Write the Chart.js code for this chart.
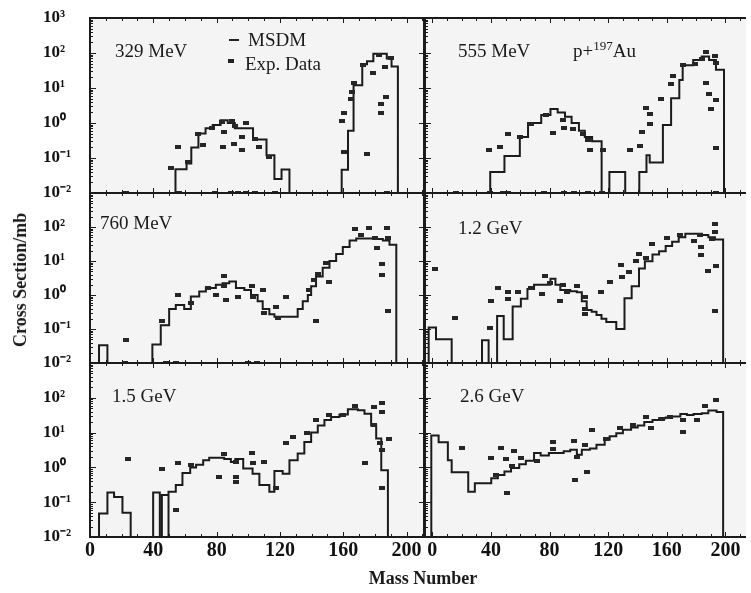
<!DOCTYPE html>
<html><head><meta charset="utf-8">
<script src="https://cdn.jsdelivr.net/npm/chart.js@4.4.1/dist/chart.umd.min.js"></script>
<style>
html,body{margin:0;padding:0;background:#fff;}
#wrap{position:relative;width:751px;height:593px;overflow:hidden;background:#fff;}
#wrap canvas{position:absolute;left:0;top:0;}
.t{position:absolute;font-family:'Liberation Serif','Times New Roman',serif;color:#1a1a1a;line-height:1;white-space:nowrap;z-index:5;}
.b{font-weight:bold;}
.sym{position:absolute;background:#222;z-index:5;}
</style></head><body>
<div id="wrap">
<canvas id="c0" width="751" height="593"></canvas>
<canvas id="c1" width="751" height="593"></canvas>
<canvas id="c2" width="751" height="593"></canvas>
<canvas id="c3" width="751" height="593"></canvas>
<canvas id="c4" width="751" height="593"></canvas>
<canvas id="c5" width="751" height="593"></canvas>
<div class="t" style="left:115px;top:40.5px;font-size:19px">329 MeV</div>
<div class="t" style="left:458px;top:40.5px;font-size:19px">555 MeV</div>
<div class="t" style="left:573px;top:40.5px;font-size:19px">p+<span style="font-size:13px;position:relative;top:-7px">197</span>Au</div>
<div class="t" style="left:100px;top:212.5px;font-size:19px">760 MeV</div>
<div class="t" style="left:458px;top:217.5px;font-size:19px">1.2 GeV</div>
<div class="t" style="left:112px;top:385.5px;font-size:19px">1.5 GeV</div>
<div class="t" style="left:460px;top:385.5px;font-size:19px">2.6 GeV</div>
<div class="sym" style="left:229px;top:39px;width:10px;height:2px"></div>
<div class="t" style="left:248px;top:29.5px;font-size:19px">MSDM</div>
<div class="sym" style="left:228px;top:59px;width:6px;height:4px"></div>
<div class="t" style="left:245px;top:54px;font-size:19px">Exp. Data</div>
<div class="t b" style="left:423px;top:578px;font-size:18px;transform:translate(-50%,-50%)">Mass Number</div>
<div class="t b" style="left:20px;top:280px;font-size:18px;transform:translate(-50%,-50%) rotate(-90deg)">Cross Section/mb</div>
</div>
<script>
// ---------- data ----------
const X_TICKS = [0, 40, 80, 120, 160, 200];
const Y_TICKS_TOP = [0.01, 0.1, 1, 10, 100, 1000];
const Y_TICKS = [0.01, 0.1, 1, 10, 100];
const YMIN = 0.01, YMAX = 1000;

// 329 MeV
const edges329 = [54, 61, 64, 68.5, 73, 77.5, 82.5, 87, 91.5, 103, 111.5, 116.5, 121, 126, 159, 163, 166.5, 172, 175, 179, 187.5, 190.5, 194.5];
const hist329 = [0.048, 0.07, 0.2, 0.5, 0.71, 0.87, 1.2, 1.0, 0.71, 0.34, 0.12, 0.025, 0.047, 0.01, 0.046, 0.6, 12, 48, 58, 95, 70, 41];
const expA329 = [51.3, 55.5, 61.8, 68.5, 71.5, 77, 83.3, 84, 84.5, 89.9, 90.7, 91.3, 96, 96, 98.7, 104, 106.6, 113.3, 158.9, 160.6, 160.6, 164.6, 165.2, 166.9, 172.6, 174.7, 179, 182.5, 183.8, 183.8, 186.7, 186.5, 190.2];
const exp329 = [0.053, 0.2, 0.075, 0.5, 0.23, 0.73, 1.1, 0.21, 0.55, 1.15, 0.25, 0.8, 0.39, 0.17, 0.98, 0.34, 0.21, 0.11, 1.17, 1.9, 0.145, 4.9, 7.6, 13.5, 45, 0.126, 27, 87, 3.5, 1.9, 5.6, 41, 71];
const floor329 = [22.8, 56.5, 78.7, 89.2, 93.4, 98.7, 104, 116.7, 187.4];

// 555 MeV
const edges555 = [39.5, 49.2, 59.7, 65.3, 74.3, 80.6, 85.5, 90.5, 95, 100, 104, 109, 115.5, 120.8, 131.6, 141.2, 146.1, 148.3, 157.3, 162.9, 168.5, 170.8, 178, 183.8, 188.8, 193.5, 199];
const hist555 = [0.04, 0.115, 0.4, 1.0, 1.7, 2.5, 2.0, 1.5, 1.0, 0.6, 0.4, 0.3, 0.01, 0.04, 0.01, 0.04, 0.12, 0.074, 0.88, 5.1, 17, 45, 63, 80, 63, 33];
const expA555 = [38.8, 46.2, 51.4, 59.7, 67.6, 77.7, 82.2, 88.9, 89.6, 96.3, 103, 106.2, 107.9, 116.5, 134.9, 141.7, 143.2, 146.1, 148.3, 148.3, 156.2, 162.5, 164.5, 170.8, 179.5, 183.7, 186.5, 186.5, 188.8, 189.9, 193.1, 193.5, 193.5, 193.5];
const exp555 = [0.17, 0.21, 0.47, 0.4, 0.93, 1.7, 0.52, 1.2, 0.7, 0.67, 0.48, 0.32, 0.17, 0.17, 0.17, 0.22, 0.56, 2.6, 1.8, 0.93, 4.8, 13, 22, 45, 47, 66, 110, 14, 6.7, 2.5, 80, 52, 4.4, 0.19];
const floor555 = [15.9, 39.5, 48.5, 51.4, 76.5, 90, 96.7, 106.2, 115.8, 193.3];

// 760 MeV
const edges760 = [5.7, 11, 39.4, 44.7, 50, 54.2, 59.5, 63.7, 69, 73.2, 79.5, 83.7, 88, 92.2, 97.5, 101.7, 105.9, 109.1, 113.3, 116.5, 131.2, 134.4, 137.6, 139.7, 142.8, 147, 151.3, 155.5, 159.7, 164, 168.2, 180.8, 185, 189.2, 193.5];
const hist760 = [0.033, 0.01, 0.035, 0.13, 0.39, 0.51, 0.39, 0.9, 1.26, 1.6, 2.0, 2.2, 2.5, 1.6, 1.4, 1.0, 0.65, 0.39, 0.27, 0.23, 0.39, 0.65, 1.0, 1.8, 3.5, 6.3, 10, 16, 26, 40, 46, 44, 40, 30];
const expA760 = [22.6, 45.4, 55.9, 63.7, 74.8, 79.5, 84.8, 84.8, 85.9, 93.3, 102.3, 103, 109.1, 110.1, 117.5, 118.6, 123.8, 138.6, 141.8, 142.8, 143.9, 149.2, 150.8, 167.1, 170.9, 176.2, 179.8, 181.2, 184.6, 184.6, 187.6, 188.2, 188.2];
const exp760 = [0.047, 0.17, 1.0, 0.57, 1.6, 1.0, 3.7, 1.8, 0.72, 0.9, 1.9, 0.9, 1.45, 0.29, 0.43, 0.21, 0.9, 1.4, 2.8, 0.17, 4.2, 8.7, 2.4, 85, 60, 91, 46, 24.5, 8.1, 3.8, 96, 46, 0.34];
const floor760 = [22, 48.1, 54.4, 99.8, 105.7];

// 1.2 GeV
const edges1200 = [-2.5, 2.5, 13.2, 33.9, 38.4, 44.2, 48.7, 54.8, 60.4, 64.9, 69.4, 80.6, 84, 87.3, 94.1, 98.6, 102, 105.3, 108.7, 112, 115.4, 118.7, 125.5, 131.1, 136, 141, 145, 150.2, 154.7, 159.2, 163.6, 168.1, 172.6, 183.8, 188.3, 192.8, 198.4];
const hist1200 = [0.11, 0.05, 0.01, 0.047, 0.01, 0.24, 0.05, 0.46, 0.78, 1.5, 2.0, 3.0, 2.0, 1.4, 1.3, 1.2, 0.65, 0.36, 0.32, 0.26, 0.2, 0.16, 0.1, 0.8, 1.8, 6.0, 9.8, 15.5, 19.5, 27.5, 37, 50, 63, 58, 50, 43];
const expA1200 = [1.6, 15.5, 39.1, 39.7, 45.1, 51.9, 51.9, 58.6, 67.6, 75, 77.2, 80.6, 87.3, 89.1, 91.8, 98.6, 104.2, 104.2, 104.2, 115.4, 121.5, 128.9, 129.5, 134.4, 139, 140.8, 146, 150.2, 160.3, 169.3, 178.3, 182.8, 183.4, 183.4, 187.9, 190.6, 192.8, 192.8, 193.3, 192.8];
const exp1200 = [6, 0.21, 0.107, 0.68, 1.6, 1.26, 0.78, 1.26, 1.66, 1.1, 3.7, 2.2, 0.68, 2.0, 1.2, 1.8, 0.85, 0.39, 0.27, 1.26, 2.4, 7.4, 3.3, 4.8, 9.8, 16.6, 12.6, 31, 48, 58, 40, 60, 26, 15.5, 5.2, 43, 120, 73, 7.2, 0.34];
const floor1200 = [];

// 1.5 GeV
const edges1500 = [5.7, 11, 15.2, 20.5, 25.7, 39.9, 44.1, 45.4, 49.6, 49.6, 54.2, 58.4, 63.3, 67, 71.5, 75.3, 84.8, 89, 91.8, 96.8, 102.7, 107, 113.3, 116.5, 121.7, 126, 131.2, 135.4, 139.7, 143.9, 148.1, 152.3, 157.6, 162.9, 169.2, 173.4, 177.6, 180.8, 184, 188.2];
const hist1500 = [0.047, 0.19, 0.14, 0.05, 0.01, 0.19, 0.01, 0.16, 0.01, 0.2, 0.31, 0.69, 1.0, 1.2, 1.6, 1.9, 1.75, 1.44, 1.75, 0.93, 0.66, 0.31, 0.2, 0.79, 0.66, 1.6, 2.5, 5.4, 10, 16, 23, 28, 33, 47, 44, 35, 16, 6.8, 0.83];
const expA1500 = [24.3, 45.8, 54.6, 55.9, 63.7, 81.6, 84.8, 92.2, 92.2, 92.2, 102.3, 103.2, 110.1, 117.5, 123.8, 128.5, 137, 142.8, 151.3, 159.7, 167.1, 174, 179.1, 179.1, 182.9, 184.7, 184.7, 184.7, 188.8, 184.7];
const exp1500 = [1.8, 0.89, 0.059, 1.38, 1.2, 0.54, 2.5, 0.54, 0.37, 1.44, 2.6, 1.38, 1.44, 0.25, 4.9, 7.6, 10, 23, 33, 32, 59, 1.38, 55, 16, 4.9, 69, 40, 3.1, 6.5, 0.25];
const floor1500 = [];

// 2.6 GeV
const edges2600 = [-0.7, 4.3, 10.6, 13.2, 24.5, 29, 40.2, 44.7, 49.2, 53.7, 59.3, 63.8, 69.4, 73.9, 79.5, 89.6, 94.1, 98.6, 102, 107.5, 112, 117.6, 121, 125.5, 130, 135.6, 140.1, 144.6, 150.2, 154.7, 159.2, 163.6, 169.2, 173.7, 178.2, 183.8, 188.3, 193.9, 198.4];
const hist2600 = [8.3, 5.3, 1.6, 0.72, 0.2, 0.35, 0.49, 0.6, 0.76, 0.96, 1.23, 1.55, 2.6, 2.2, 2.6, 2.9, 3.2, 2.3, 3.2, 3.5, 4.5, 6.2, 7.8, 9.6, 12, 14, 16, 20, 23, 26, 27, 29, 34, 32, 34, 36, 43, 39];
const expA2600 = [20, 40.2, 43.1, 46.9, 50.3, 50.9, 54.1, 55.4, 60.8, 71.6, 82.4, 82.4, 96.8, 97.4, 99, 104.2, 105.3, 108.6, 118.7, 127.7, 136.7, 145.7, 149.1, 156.9, 161.9, 170.9, 170.9, 180.5, 186.1, 193.3];
const exp2600 = [3.5, 1.9, 0.59, 3.7, 1.74, 0.18, 1.12, 2.9, 1.9, 1.55, 5.3, 3.4, 5.8, 0.44, 2.0, 4.3, 0.73, 12, 6.6, 13.4, 16, 29, 14, 24.5, 29, 23, 10.7, 23, 60, 87];
const floor2600 = [];

// ---------- layout ----------
const FONT = "'Liberation Serif','Times New Roman',serif";
const COLS = [{left: 90, right: 424, xmin: 0, xmax: 211}, {left: 425, right: 751, xmin: -5, xmax: 214}];
const ROWS = [{top: 18, bottom: 193}, {top: 193, bottom: 363}, {top: 363, bottom: 537}];
const W = 751, H = 593;

const panels = [
  {id: 'c0', col: 0, row: 0, edges: edges329, hist: hist329, expA: expA329, exp: exp329, floor: floor329},
  {id: 'c1', col: 1, row: 0, edges: edges555, hist: hist555, expA: expA555, exp: exp555, floor: floor555},
  {id: 'c2', col: 0, row: 1, edges: edges760, hist: hist760, expA: expA760, exp: exp760, floor: floor760},
  {id: 'c3', col: 1, row: 1, edges: edges1200, hist: hist1200, expA: expA1200, exp: exp1200, floor: floor1200},
  {id: 'c4', col: 0, row: 2, edges: edges1500, hist: hist1500, expA: expA1500, exp: exp1500, floor: floor1500},
  {id: 'c5', col: 1, row: 2, edges: edges2600, hist: hist2600, expA: expA2600, exp: exp2600, floor: floor2600}
];

function histPoints(edges, vals) {
  const pts = [{x: edges[0], y: YMIN}];
  for (let i = 0; i < vals.length; i++) pts.push({x: edges[i], y: vals[i]});
  pts.push({x: edges[edges.length - 1], y: YMIN});
  return pts;
}
const SUP = {'-': '\u207B', '0': '\u2070', '1': '\u00B9', '2': '\u00B2', '3': '\u00B3'};
function sciLabel(v) {
  const e = Math.round(Math.log10(v));
  return '10' + String(e).split('').map(c => SUP[c]).join('');
}

const marker = document.createElement('canvas');
marker.width = 6; marker.height = 4;
(function () { const m = marker.getContext('2d'); m.fillStyle = '#262626'; m.fillRect(0, 0, 6, 4); })();

const framePlugin = {
  id: 'frame',
  beforeDatasetsDraw(chart) {
    const {ctx, chartArea: a} = chart;
    ctx.save();
    ctx.fillStyle = '#f4f4f4';
    ctx.fillRect(a.left, a.top, a.right - a.left, a.bottom - a.top);
    ctx.restore();
  },
  afterDatasetsDraw(chart, args, opts) {
    const {ctx, chartArea: a} = chart;
    const x = chart.scales.x, y = chart.scales.y;
    ctx.save();
    ctx.strokeStyle = '#1b1b1b';
    ctx.lineWidth = 1;
    ctx.beginPath();
    for (let d = -2; d <= 2; d++) {
      for (let m = 1; m <= 9; m++) {
        const py = Math.round(y.getPixelForValue(m * Math.pow(10, d))) + 0.5;
        const len = m === 1 ? 6 : 3;
        ctx.moveTo(a.left, py); ctx.lineTo(a.left + len, py);
        if (!opts.noRight && m === 1) { ctx.moveTo(a.right, py); ctx.lineTo(a.right - 5, py); }
      }
    }
    for (let v = Math.ceil(x.min / 10) * 10; v <= x.max; v += 10) {
      const px = Math.round(x.getPixelForValue(v)) + 0.5;
      const len = v % 40 === 0 ? 5 : 3;
      ctx.moveTo(px, a.bottom); ctx.lineTo(px, a.bottom - len);
      ctx.moveTo(px, a.top); ctx.lineTo(px, a.top + len);
    }
    ctx.stroke();
    ctx.lineWidth = 2;
    ctx.beginPath();
    ctx.moveTo(a.right, a.top); ctx.lineTo(a.left, a.top); ctx.lineTo(a.left, a.bottom); ctx.lineTo(a.right, a.bottom);
    if (!opts.noRight) ctx.lineTo(a.right, a.top);
    ctx.stroke();
    ctx.restore();
  }
};

function makeChart(p) {
  const col = COLS[p.col], row = ROWS[p.row];
  const isLeft = p.col === 0, isBottom = p.row === 2;
  const yW = isLeft ? 47 : 0;
  const xH = isBottom ? 30 : 0;
  const yTicks = p.row === 0 ? Y_TICKS_TOP : Y_TICKS;
  return new Chart(document.getElementById(p.id), {
    type: 'scatter',
    data: {
      datasets: [
        {type: 'line', label: 'MSDM', data: histPoints(p.edges, p.hist), stepped: 'before',
         borderColor: '#1b1b1b', borderWidth: 2, pointRadius: 0, fill: false, tension: 0,
         borderJoinStyle: 'miter', borderCapStyle: 'butt', order: 2},
        {label: 'Exp. Data', data: p.expA.map((a, i) => ({x: a, y: p.exp[i]})),
         pointStyle: marker, pointRadius: 3, clip: false, order: 1},
        {label: 'Exp. Data (at lower limit)', data: p.floor.map(a => ({x: a, y: YMIN})),
         pointStyle: marker, pointRadius: 3, clip: false, order: 1}
      ]
    },
    options: {
      responsive: false, animation: false, devicePixelRatio: 1,
      layout: {padding: {left: col.left - yW, right: W - col.right, top: row.top, bottom: H - row.bottom - xH}},
      plugins: {legend: {display: false}, tooltip: {enabled: false}, frame: {noRight: p.col === 1}},
      events: [],
      scales: {
        x: {type: 'linear', min: col.xmin, max: col.xmax,
            afterBuildTicks: s => { s.ticks = X_TICKS.map(v => ({value: v})); },
            afterFit: s => { s.height = xH; },
            grid: {display: false, drawTicks: false}, border: {display: false},
            ticks: {display: isBottom, autoSkip: false, maxRotation: 0, padding: 2, color: '#111',
                    font: {family: FONT, size: 20, weight: 'bold'}}},
        y: {type: 'logarithmic', min: YMIN, max: YMAX,
            afterBuildTicks: s => { s.ticks = yTicks.map(v => ({value: v})); },
            afterFit: s => { s.width = yW; },
            grid: {display: false, drawTicks: false}, border: {display: false},
            ticks: {display: isLeft, crossAlign: 'far', autoSkip: false, padding: 0, color: '#111',
                    font: {family: FONT, size: 17, weight: 'bold'}, callback: v => sciLabel(v)}}
      }
    },
    plugins: [framePlugin]
  });
}
panels.forEach(makeChart);
</script>
</body></html>
